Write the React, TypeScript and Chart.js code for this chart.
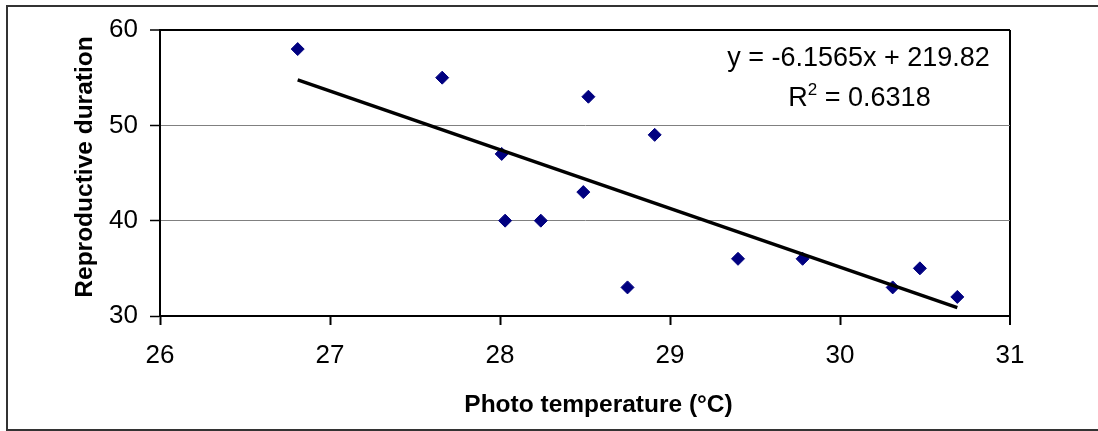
import React, { useEffect, useRef } from "react";
import { Chart, registerables } from "chart.js";

Chart.register(...registerables);

const tempX = [26.81, 27.66, 28.01, 28.03, 28.24, 28.49, 28.52, 28.75, 28.91, 29.4, 29.78, 30.31, 30.47, 30.69];
const durationY = [58, 55, 47, 40, 40, 43, 53, 33, 49, 36, 36, 33, 35, 32];
const trendX = [26.81, 30.69];
const trendY = [54.76, 30.88];
const xTickValues = [26, 27, 28, 29, 30, 31];
const yTickValues = [30, 40, 50, 60];
const xTitle = "Photo temperature (°C)";
const yTitle = "Reproductive duration";
const equationText = "y = -6.1565x + 219.82";
const r2Value = "0.6318";

const FONT = "'Liberation Sans', Arial, Helvetica, sans-serif";

const decorPlugin = {
  id: "decor",
  afterDraw(chart: any) {
    const ctx = chart.ctx as CanvasRenderingContext2D;
    const W = chart.width;
    ctx.save();
    // outer chart border (left, top, bottom)
    ctx.fillStyle = "#333333";
    ctx.fillRect(6, 5, 2, 426);
    ctx.fillRect(6, 5, W - 6, 2);
    ctx.fillRect(6, 429, W - 6, 2);

    // axis titles
    ctx.fillStyle = "#000000";
    ctx.font = `bold 24.5px ${FONT}`;
    ctx.textAlign = "center";
    ctx.textBaseline = "alphabetic";
    ctx.fillText(xTitle, 598.5, 412);

    ctx.save();
    ctx.translate(92, 167);
    ctx.rotate(-Math.PI / 2);
    ctx.fillText(yTitle, 0, 0);
    ctx.restore();

    // trendline equation
    ctx.font = `27px ${FONT}`;
    ctx.textAlign = "center";
    ctx.fillText(equationText, 858.5, 66);

    const partR = "R";
    const partRest = " = " + r2Value;
    ctx.font = `27px ${FONT}`;
    const wR = ctx.measureText(partR).width;
    const wRest = ctx.measureText(partRest).width;
    ctx.font = `17px ${FONT}`;
    const wSup = ctx.measureText("2").width;
    const total = wR + wSup + wRest;
    const x0 = 859.5 - total / 2;
    ctx.textAlign = "left";
    ctx.font = `27px ${FONT}`;
    ctx.fillText(partR, x0, 106);
    ctx.font = `17px ${FONT}`;
    ctx.fillText("2", x0 + wR, 95);
    ctx.font = `27px ${FONT}`;
    ctx.fillText(partRest, x0 + wR + wSup, 106);
    ctx.restore();
  },
};

export default function App() {
  const canvasRef = useRef<HTMLCanvasElement | null>(null);

  useEffect(() => {
    document.body.style.margin = "0";
    const canvas = canvasRef.current;
    if (!canvas) return;
    const chart = new Chart(canvas, {
      type: "scatter",
      data: {
        datasets: [
          {
            label: "Trend",
            data: trendX.map((x, i) => ({ x, y: trendY[i] })),
            showLine: true,
            borderColor: "#000000",
            borderWidth: 3.5,
            pointRadius: 0,
            fill: false,
            order: 0,
          } as any,
          {
            label: "Reproductive duration",
            data: tempX.map((x, i) => ({ x, y: durationY[i] })),
            pointStyle: "rectRot",
            pointRadius: 6.5,
            pointHoverRadius: 6.5,
            backgroundColor: "#000080",
            borderColor: "#000080",
            borderWidth: 1,
            order: 1,
          } as any,
        ],
      },
      options: {
        animation: false,
        responsive: false,
        layout: { padding: { left: 0, right: 88, top: 30, bottom: 0 } },
        plugins: { legend: { display: false }, tooltip: { enabled: false } },
        scales: {
          x: {
            type: "linear",
            min: 26,
            max: 31,
            afterBuildTicks: (scale: any) => {
              scale.ticks = xTickValues.map((v) => ({ value: v }));
            },
            afterFit: (scale: any) => {
              scale.height = 115;
            },
            ticks: {
              color: "#000000",
              font: { family: FONT, size: 26 },
              padding: 15,
              maxRotation: 0,
              autoSkip: false,
            },
            grid: {
              drawOnChartArea: true,
              color: (c: any) => (c.tick && c.tick.value === 31 ? "#000000" : "rgba(0,0,0,0)"),
              lineWidth: (c: any) => (c.tick && c.tick.value === 31 ? 2 : 1),
              tickColor: "#000000",
              tickWidth: 2,
              tickLength: 9,
            },
            border: { color: "#000000", width: 2 },
          },
          y: {
            type: "linear",
            min: 30,
            max: 60,
            afterBuildTicks: (scale: any) => {
              scale.ticks = yTickValues.map((v) => ({ value: v }));
            },
            afterFit: (scale: any) => {
              scale.width = 160;
            },
            ticks: {
              color: "#000000",
              font: { family: FONT, size: 26 },
              padding: 12,
              autoSkip: false,
            },
            grid: {
              color: (c: any) => (c.tick && c.tick.value === 60 ? "#000000" : "#808080"),
              lineWidth: (c: any) => (c.tick && c.tick.value === 60 ? 2 : 1),
              tickColor: "#000000",
              tickWidth: 1.5,
              tickLength: 10,
            },
            border: { color: "#000000", width: 2 },
          },
        },
      },
      plugins: [decorPlugin],
    });
    return () => chart.destroy();
  }, []);

  return (
    <div style={{ width: 1098, height: 431, background: "#ffffff" }}>
      <canvas ref={canvasRef} width={1098} height={431} style={{ display: "block" }} />
    </div>
  );
}
